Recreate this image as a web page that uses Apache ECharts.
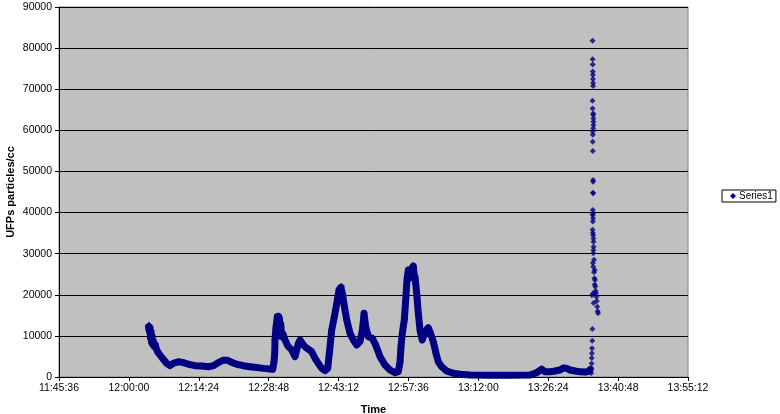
<!DOCTYPE html>
<html><head><meta charset="utf-8">
<script src="https://cdn.jsdelivr.net/npm/echarts@6/dist/echarts.min.js"></script>
<style>html,body{margin:0;padding:0;background:#fff}#c{width:780px;height:414px}</style>
</head><body><div id="c"></div>
<script>
// Times are seconds since midnight, values in particles/cc
const mainTimes = [43442,43449,43455,43461,43467,43474,43480,43486,43492,43498,43511,43523,43544,43560,43585,43626,43668,43708,43749,43811,43873,43935,44017,44100,44182,44244,44305,44367,44417,44471,44533,44614,44697,44780,44862,44945,44978,44994,45003,45006,45019,45035,45044,45050,45060,45068,45077,45089,45105,45130,45167,45213,45254,45295,45316,45357,45399,45460,45501,45542,45584,45625,45658,45678,45707,45740,45770,45798,45819,45829,45839,45864,45893,45934,45975,46017,46057,46086,46098,46107,46116,46128,46160,46209,46251,46305,46366,46428,46490,46531,46552,46564,46580,46605,46622,46638,46654,46669,46688,46700,46716,46725,46737,46758,46778,46799,46827,46861,46901,46922,46943,46963,46997,47025,47067,47129,47211,47294,47418,47665,47912,48159,48242,48304,48345,48406,48468,48530,48571,48613,48654,48716,48777,48839,48876,48901];
const mainValues = [12200,12600,11000,12000,9500,11000,8500,10000,8000,9000,7500,8000,6600,6000,5350,4300,3300,2750,3300,3700,3500,3100,2750,2650,2500,2750,3500,4100,4100,3550,3100,2750,2500,2300,2100,1950,1900,3700,5750,9000,12200,14700,13500,14800,14300,12000,13000,9800,10500,9000,7500,6600,4950,8200,9000,7800,7000,6150,4550,3300,2100,1550,2100,5750,11400,14700,17900,21200,21800,22000,20400,17100,13900,10600,9000,7800,8600,11400,13500,15500,14000,12200,9800,9400,7800,4950,2900,1700,1050,1300,3700,7400,10600,13900,18700,23600,26000,24000,25200,26500,27000,25000,24400,20400,15500,11400,9000,11000,12000,11000,9800,8600,5750,3700,2500,1450,900,650,500,400,400,500,1050,1900,1250,1250,1450,1700,2200,2100,1700,1450,1250,1200,1300,1800];
const spikeTimes = [48916,48918,48920,48922,48924,48926,48928,48930,48932,48933,48934,48935,48936,48937,48938,48939,48931,48932,48940,48941,48942,48943,48944,48940,48936,48935,48934,48935,48938,48939,48936,48941,48935,48938,48933,48938,48936,48933,48936,48940,48943,48943,48945,48943,48940,48936,48940,48950,48955,48962,48958,48966,48970,48975,48980,48985,48990,48995,49000,48925,48940,48945,48960,48950];
const spikeValues = [1000,2100,3300,4600,5800,7000,8800,11700,81800,77300,76000,74300,73500,72500,71500,70800,67200,65300,64100,63700,62900,62100,61300,60500,59700,58900,57200,55000,47900,47500,44800,44700,40600,39800,39400,38600,37800,35800,35000,34500,33700,32900,31700,30900,30100,27700,26800,25500,24000,23600,22500,22000,21000,20400,19500,18500,17100,16000,15500,19900,20400,18000,26000,28500];
const xMin = 42336, xMax = 50112, xStep = 864;   // 11:45:36 .. 13:55:12
const yTicks = [0,10000,20000,30000,40000,50000,60000,70000,80000,90000];

function fmtTime(s){
  const h = Math.floor(s/3600), m = Math.floor((s%3600)/60), sec = Math.round(s%60);
  return h + ':' + String(m).padStart(2,'0') + ':' + String(sec).padStart(2,'0');
}
const font = "'Liberation Sans', Arial, sans-serif";
const navy = '#000080';
const chart = echarts.init(document.getElementById('c'), null, {renderer:'canvas'});
chart.setOption({
  animation:false,
  backgroundColor:'#ffffff',
  textStyle:{fontFamily:font},
  grid:{left:59, top:7, right:92, bottom:37, containLabel:false, outerBoundsMode:'none',
        show:true, backgroundColor:'#C0C0C0', borderColor:'#808080', borderWidth:1},
  legend:{
    data:[{name:'Series1', icon:'diamond'}],
    left:722, top:190, orient:'vertical',
    borderColor:'#000', borderWidth:1, padding:[1,3,1,8],
    itemWidth:6, itemHeight:6, itemGap:0,
    textStyle:{fontFamily:font, fontSize:10, color:'#000', padding:[0,0,0,-2]}
  },
  xAxis:{
    type:'value', min:xMin, max:xMax, interval:xStep,
    name:'Time', nameLocation:'middle', nameGap:27, nameMoveOverlap:false,
    nameTextStyle:{fontFamily:font, fontSize:11, fontWeight:'bold', color:'#000'},
    axisLine:{show:true, onZero:false, lineStyle:{color:'#000', width:1}},
    axisTick:{show:true, inside:false, length:4, lineStyle:{color:'#000'}},
    axisLabel:{formatter:fmtTime, fontFamily:font, fontSize:10.5, color:'#000', margin:6},
    splitLine:{show:false}
  },
  yAxis:{
    type:'value', min:yTicks[0], max:yTicks[yTicks.length-1], interval:yTicks[1]-yTicks[0],
    name:'UFPs particles/cc', nameLocation:'middle', nameGap:43, nameMoveOverlap:false,
    nameTextStyle:{fontFamily:font, fontSize:11, fontWeight:'bold', color:'#000'},
    axisLine:{show:true, lineStyle:{color:'#000', width:1}},
    axisTick:{show:true, inside:false, length:4, lineStyle:{color:'#000'}},
    axisLabel:{formatter:v=>String(v), fontFamily:font, fontSize:10.5, color:'#000', margin:7},
    splitLine:{show:true, lineStyle:{color:'#000', width:1}}
  },
  series:[
    {
      name:'Series1', type:'line',
      data: mainTimes.map((t,i)=>[t, mainValues[i]]),
      lineStyle:{color:navy, width:7, join:'round', cap:'round'},
      itemStyle:{color:navy},
      symbol:'diamond', symbolSize:7, showSymbol:true, showAllSymbol:true
    },
    {
      name:'Series1', type:'scatter',
      data: spikeTimes.map((t,i)=>[t, spikeValues[i]]),
      itemStyle:{color:navy},
      symbol:'diamond', symbolSize:6
    }
  ]
});
</script></body></html>
